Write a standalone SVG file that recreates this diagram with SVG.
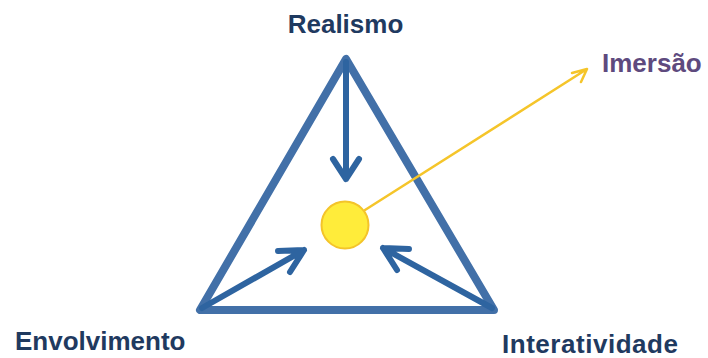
<svg xmlns="http://www.w3.org/2000/svg" width="708" height="358" viewBox="0 0 708 358">
<style>
.lbl{font-family:"Liberation Sans",Arial,sans-serif;font-weight:bold;font-size:26px;fill:#1f3a60}
.blue{stroke:#2e64a0;stroke-width:6;fill:none;stroke-linecap:round;stroke-linejoin:round}
.yel{stroke:#f5c52a;stroke-width:2.5;fill:none;stroke-linecap:round;stroke-linejoin:round}
</style>
<rect width="708" height="358" fill="#fff"/>
<g id="triangle">
<polygon points="346,59 200,310 494,310" fill="none" stroke="#4270a8" stroke-width="8" stroke-linejoin="round"/>
</g>
<g id="connectors">
<path class="blue" d="M346,62 L346,179 M333,159 L346,179 L359,159"/>
<path class="blue" d="M202,308 L304,250 M278,251 L304,250 L290,272"/>
<path class="blue" d="M492,308 L383,248 M409,249 L383,248 L397,270"/>
<path class="yel" d="M365,210 L587,69 M572,73 L587,69 L581,82"/>
</g>
<g id="immersion-center">
<circle cx="345" cy="225" r="23.5" fill="#ffec3a" stroke="#f4c42a" stroke-width="2"/>
</g>
<g id="realismo"><text class="lbl" x="345.5" y="33" text-anchor="middle">Realismo</text></g>
<g id="envolvimento"><text class="lbl" x="15" y="350">Envolvimento</text></g>
<g id="interatividade"><text class="lbl" x="502" y="353" textLength="176">Interatividade</text></g>
<g id="imersao"><text class="lbl" x="602" y="72" style="fill:#5e4a7e">Imersão</text></g>
</svg>
